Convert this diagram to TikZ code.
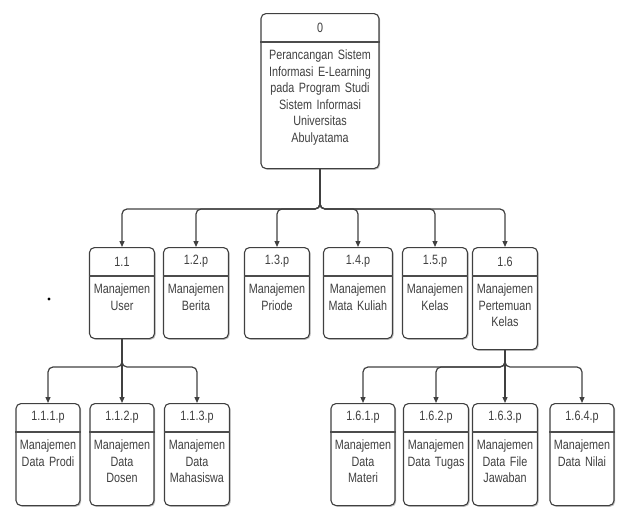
\documentclass[tikz,border=0pt]{standalone}
\usepackage{fontspec}
\setmainfont[FakeStretch=0.8]{Liberation Sans}
\usetikzlibrary{arrows.meta,shadows}
\tikzset{
  pbox/.style={draw=black!75, line width=1.1pt, rounded corners=5pt, fill=white,
    drop shadow={shadow xshift=1.2pt, shadow yshift=-1.2pt, opacity=0.25, fill=black},
    inner sep=0pt},
  divline/.style={draw=black!70, line width=1.1pt},
  idtext/.style={font=\fontsize{13.5}{15}\selectfont, text=black!75, inner sep=0pt},
  bodytext/.style={font=\fontsize{13.5}{16.5}\selectfont, text=black!75, align=center, inner sep=0pt},
  conn/.style={draw=black!75, line width=1.2pt, rounded corners=5pt,
    -{Triangle[length=6pt,width=5pt]}},
}
% name, cx, top, height, width, id, text
\newcommand\procbox[7]{%
  \node[pbox, minimum width=#5pt, minimum height=#4pt, anchor=north] (#1) at (#2,#3) {};
  \draw[divline] ([yshift=-29pt]#1.north west) -- ([yshift=-29pt]#1.north east);
  \node[idtext] (#1-id) at ([yshift=-14.5pt]#1.north) {#6};
  \node[bodytext, text width=#5pt, anchor=north] (#1-txt) at ([yshift=-37pt]#1.north) {#7};
}
\begin{document}
\begin{tikzpicture}[x=1pt,y=-1pt]
\useasboundingbox (0,0) rectangle (621,507);
% root
\procbox{b0}{320}{13}{155}{118}{0}{Perancangan Sistem\\Informasi E-Learning\\pada Program Studi\\Sistem Informasi\\Universitas\\Abulyatama}
% level 1
\procbox{b11}{122}{247}{91}{65}{1.1}{Manajemen\\User}
\procbox{b12}{196}{247}{91}{65}{1.2.p}{Manajemen\\Berita}
\procbox{b13}{277}{247}{91}{65}{1.3.p}{Manajemen\\Priode}
\procbox{b14}{358}{247}{91}{69}{1.4.p}{Manajemen\\Mata Kuliah}
\procbox{b15}{435}{247}{91}{65}{1.5.p}{Manajemen\\Kelas}
\procbox{b16}{505}{247}{102}{65}{1.6}{Manajemen\\Pertemuan\\Kelas}
% level 2
\procbox{b111}{48}{403}{102}{64}{1.1.1.p}{Manajemen\\Data Prodi}
\procbox{b112}{122}{403}{102}{64}{1.1.2.p}{Manajemen\\Data\\Dosen}
\procbox{b113}{197}{403}{102}{65}{1.1.3.p}{Manajemen\\Data\\Mahasiswa}
\procbox{b161}{363}{403}{102}{64}{1.6.1.p}{Manajemen\\Data\\Materi}
\procbox{b162}{436}{403}{102}{65}{1.6.2.p}{Manajemen\\Data Tugas}
\procbox{b163}{505}{403}{102}{65}{1.6.3.p}{Manajemen\\Data File\\Jawaban}
\procbox{b164}{582}{403}{102}{64}{1.6.4.p}{Manajemen\\Data Nilai}
% junctions
\coordinate (j0) at (320,209);
\coordinate (j11) at (122,367);
\coordinate (j16) at (505,367);
% connectors
\foreach \t in {b11,b12,b13,b14,b15,b16}
  \draw[conn] (b0.south) -- (j0) -| (\t.north);
\foreach \t in {b111,b112,b113}
  \draw[conn] (b11.south) -- (j11) -| (\t.north);
\foreach \t in {b161,b162,b163,b164}
  \draw[conn] (b16.south) -- (j16) -| (\t.north);
% stray dot
\fill[black] (49,299) circle (1.6pt);
\end{tikzpicture}
\end{document}
